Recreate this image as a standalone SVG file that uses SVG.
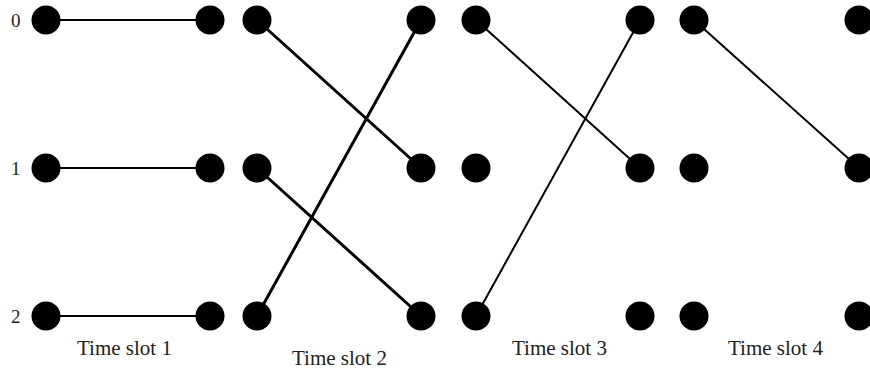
<svg xmlns="http://www.w3.org/2000/svg" width="870" height="370" viewBox="0 0 870 370">
<style>
.dot{fill:#000}
.lbl{font-family:"Liberation Serif","Times New Roman",serif;fill:#222}
.num{font-size:19px}
.ts{font-size:21px}
.c{stroke:#000;stroke-linecap:round;fill:none}
.thin{stroke-width:2}
.thick{stroke-width:3}
</style>
<rect width="870" height="370" fill="#fff"/>
<g id="connectors">
<line class="c thin" x1="46" y1="20" x2="210" y2="20"/>
<line class="c thin" x1="46" y1="168" x2="210" y2="168"/>
<line class="c thin" x1="46" y1="316" x2="210" y2="316"/>
<line class="c thick" x1="257" y1="20" x2="421" y2="168"/>
<line class="c thick" x1="257" y1="168" x2="421" y2="316"/>
<line class="c thick" x1="257" y1="316" x2="421" y2="20"/>
<line class="c thin" x1="476" y1="20" x2="640" y2="168"/>
<line class="c thin" x1="476" y1="316" x2="640" y2="20"/>
<line class="c thin" x1="694" y1="20" x2="859" y2="168"/>
</g>
<g id="row0">
<text class="lbl num" x="11" y="27">0</text>
<circle class="dot" cx="46" cy="20" r="14.5"/>
<circle class="dot" cx="210" cy="20" r="14.5"/>
<circle class="dot" cx="257" cy="20" r="14.5"/>
<circle class="dot" cx="421" cy="20" r="14.5"/>
<circle class="dot" cx="476" cy="20" r="14.5"/>
<circle class="dot" cx="640" cy="20" r="14.5"/>
<circle class="dot" cx="694" cy="20" r="14.5"/>
<circle class="dot" cx="859" cy="20" r="14.5"/>
</g>
<g id="row1">
<text class="lbl num" x="11" y="175">1</text>
<circle class="dot" cx="46" cy="168" r="14.5"/>
<circle class="dot" cx="210" cy="168" r="14.5"/>
<circle class="dot" cx="257" cy="168" r="14.5"/>
<circle class="dot" cx="421" cy="168" r="14.5"/>
<circle class="dot" cx="476" cy="168" r="14.5"/>
<circle class="dot" cx="640" cy="168" r="14.5"/>
<circle class="dot" cx="694" cy="168" r="14.5"/>
<circle class="dot" cx="859" cy="168" r="14.5"/>
</g>
<g id="row2">
<text class="lbl num" x="11" y="323">2</text>
<circle class="dot" cx="46" cy="316" r="14.5"/>
<circle class="dot" cx="210" cy="316" r="14.5"/>
<circle class="dot" cx="257" cy="316" r="14.5"/>
<circle class="dot" cx="421" cy="316" r="14.5"/>
<circle class="dot" cx="476" cy="316" r="14.5"/>
<circle class="dot" cx="640" cy="316" r="14.5"/>
<circle class="dot" cx="694" cy="316" r="14.5"/>
<circle class="dot" cx="859" cy="316" r="14.5"/>
</g>
<g id="labels">
<text class="lbl ts" x="77" y="355">Time slot 1</text>
<text class="lbl ts" x="292" y="365">Time slot 2</text>
<text class="lbl ts" x="512" y="355">Time slot 3</text>
<text class="lbl ts" x="728" y="355">Time slot 4</text>
</g>
</svg>
